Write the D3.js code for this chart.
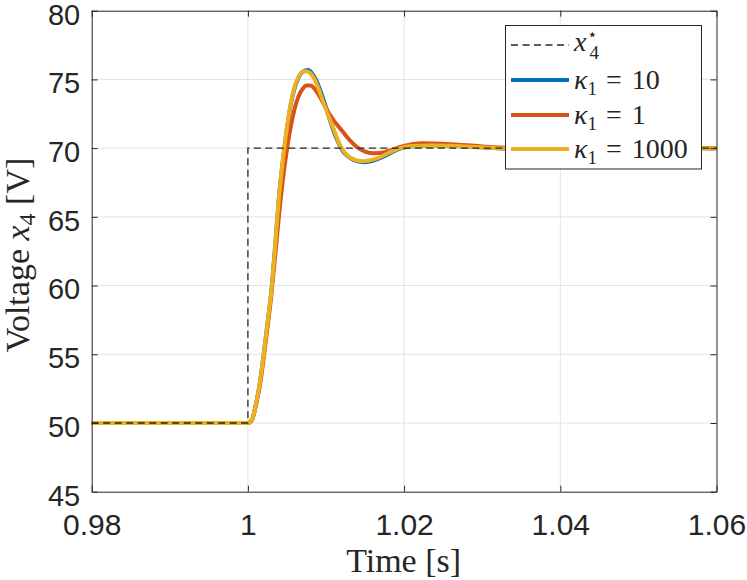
<!DOCTYPE html>
<html>
<head>
<meta charset="utf-8">
<script src="https://cdn.jsdelivr.net/npm/d3@7"></script>
<style>
  html, body { margin: 0; padding: 0; background: #fff; }
  svg { display: block; }
</style>
</head>
<body>
<svg id="chart" width="747" height="580"></svg>
<script>
// ---------------- data ----------------
const xTicks = [0.98, 1, 1.02, 1.04, 1.06];
const xTickLabels = ["0.98", "1", "1.02", "1.04", "1.06"];
const yTicks = [45, 50, 55, 60, 65, 70, 75, 80];
const yTickLabels = ["45", "50", "55", "60", "65", "70", "75", "80"];

// reference x4* (step)
const refTime  = [0.98, 1.0, 1.0, 1.06];
const refValue = [50, 50, 70, 70];

// kappa1 = 10 (blue)
const k10Time  = [0.98, 1.0, 1.0005, 1.001, 1.0015, 1.002, 1.0025, 1.003, 1.0035, 1.004, 1.0045, 1.005, 1.0055, 1.006, 1.0065, 1.007, 1.0077, 1.0082, 1.0087, 1.0092, 1.0097, 1.0102, 1.0107, 1.0112, 1.0117, 1.0122, 1.0127, 1.0132, 1.0137, 1.0142, 1.0149, 1.0156, 1.0166, 1.0176, 1.0186, 1.0196, 1.021, 1.0235, 1.026, 1.029, 1.032, 1.035, 1.04, 1.045, 1.06];
const k10Value = [50, 50, 50.2, 51.3, 52.8, 54.9, 57.2, 59.6, 63.0, 66.6, 69.2, 71.4, 73.2, 74.4, 75.15, 75.55, 75.68, 75.45, 75.0, 74.3, 73.5, 72.6, 71.7, 70.9, 70.25, 69.75, 69.45, 69.25, 69.1, 69.02, 68.98, 69.02, 69.2, 69.45, 69.75, 69.98, 70.14, 70.2, 70.17, 70.08, 70.0, 69.97, 69.98, 70.0, 70.0];

// kappa1 = 1 (orange)
const k1Time  = [0.98, 1.0, 1.0005, 1.001, 1.0015, 1.002, 1.0025, 1.003, 1.0035, 1.004, 1.0045, 1.005, 1.0055, 1.006, 1.0065, 1.007, 1.0075, 1.008, 1.0085, 1.009, 1.0095, 1.010, 1.011, 1.012, 1.013, 1.0139, 1.015, 1.0162, 1.0175, 1.0185, 1.0195, 1.021, 1.0225, 1.024, 1.027, 1.030, 1.033, 1.037, 1.042, 1.05, 1.06];
const k1Value = [50, 50, 50.2, 51.2, 52.6, 54.6, 56.9, 59.3, 62.2, 65.2, 67.8, 69.9, 71.6, 72.9, 73.8, 74.3, 74.55, 74.55, 74.35, 73.95, 73.45, 72.9, 72.0, 71.3, 70.6, 70.1, 69.75, 69.62, 69.7, 69.88, 70.08, 70.28, 70.35, 70.33, 70.25, 70.12, 70.03, 69.98, 69.98, 70.0, 70.0];

// kappa1 = 1000 (yellow)
const k1000Time  = [0.98, 1.0, 1.0005, 1.001, 1.0015, 1.002, 1.0025, 1.003, 1.0035, 1.004, 1.0045, 1.005, 1.0055, 1.006, 1.0065, 1.007, 1.0075, 1.008, 1.0085, 1.009, 1.0095, 1.010, 1.0105, 1.011, 1.0115, 1.012, 1.0125, 1.013, 1.0135, 1.014, 1.0148, 1.0155, 1.0165, 1.0175, 1.0185, 1.0195, 1.021, 1.0235, 1.026, 1.029, 1.032, 1.035, 1.04, 1.045, 1.06];
const k1000Value = [50, 50, 50.2, 51.3, 52.8, 54.9, 57.2, 59.6, 63.0, 66.6, 69.3, 71.5, 73.3, 74.5, 75.2, 75.55, 75.6, 75.45, 75.05, 74.4, 73.6, 72.8, 72.1, 71.35, 70.6, 70.0, 69.6, 69.35, 69.2, 69.1, 69.05, 69.1, 69.25, 69.5, 69.78, 70.0, 70.15, 70.2, 70.17, 70.08, 70.0, 69.97, 69.98, 70.0, 70.0];

const seriesNames = ["k10", "k1", "k1000"];
const seriesColors = ["#0072BD", "#D95319", "#EDB120"];
const kappaLabels = ["10", "1", "1000"];

// ---------------- layout ----------------
const mLeft = 91.7, mRight = 716.5, mTop = 10.7, mBottom = 491.7;
const x = d3.scaleLinear().domain([0.98, 1.06]).range([mLeft, mRight]);
const y = d3.scaleLinear().domain([45, 80]).range([mBottom, mTop]);

const svg = d3.select("#chart");
const axisColor = "#262626";
const sans = "'Liberation Sans', Arial, Helvetica, sans-serif";
const serif = "'Liberation Serif', 'Times New Roman', Times, 'DejaVu Serif', serif";

// clip
svg.append("defs").append("clipPath").attr("id", "clip")
  .append("rect").attr("x", mLeft).attr("y", mTop).attr("width", mRight - mLeft).attr("height", mBottom - mTop);

// grid
const grid = svg.append("g");
grid.selectAll(".gx").data(xTicks.slice(1, -1)).enter().append("line")
  .attr("x1", d => x(d)).attr("x2", d => x(d)).attr("y1", mTop).attr("y2", mBottom)
  .attr("stroke", "#e3e3e3").attr("stroke-width", 1);
grid.selectAll(".gy").data(yTicks.slice(1, -1)).enter().append("line")
  .attr("y1", d => y(d)).attr("y2", d => y(d)).attr("x1", mLeft).attr("x2", mRight)
  .attr("stroke", "#e3e3e3").attr("stroke-width", 1);

// lines
const plot = svg.append("g").attr("clip-path", "url(#clip)");
const lineGen = d3.line().x(d => x(d[0])).y(d => y(d[1])).curve(d3.curveMonotoneX);
const seriesData = [
  d3.zip(k10Time, k10Value),
  d3.zip(k1Time, k1Value),
  d3.zip(k1000Time, k1000Value)
];
seriesData.forEach((data, i) => {
  plot.append("path").datum(data)
    .attr("d", lineGen)
    .attr("fill", "none")
    .attr("stroke", seriesColors[i])
    .attr("stroke-width", 4)
    .attr("stroke-linejoin", "round")
    .attr("stroke-linecap", "round");
});
// reference dashed
const refLine = d3.line().x(d => x(d[0])).y(d => y(d[1]));
plot.append("path").datum(d3.zip(refTime, refValue))
  .attr("d", refLine)
  .attr("fill", "none")
  .attr("stroke", "#262626")
  .attr("stroke-width", 1.3)
  .attr("stroke-dasharray", "7,4.5");

// axes
const xAxisB = d3.axisBottom(x).tickValues(xTicks).tickFormat((d, i) => xTickLabels[i]).tickSizeInner(-6).tickSizeOuter(0).tickPadding(22);
const xAxisT = d3.axisTop(x).tickValues(xTicks).tickFormat("").tickSizeInner(-6).tickSizeOuter(0);
const yAxisL = d3.axisLeft(y).tickValues(yTicks).tickFormat((d, i) => yTickLabels[i]).tickSizeInner(-6).tickSizeOuter(0).tickPadding(11.5);
const yAxisR = d3.axisRight(y).tickValues(yTicks).tickFormat("").tickSizeInner(-6).tickSizeOuter(0);

function styleAxis(g) {
  g.select(".domain").attr("stroke", axisColor).attr("stroke-width", 1);
  g.selectAll(".tick line").attr("stroke", axisColor).attr("stroke-width", 1);
  g.selectAll(".tick text").attr("fill", axisColor).style("font-family", sans).style("font-size", "30px");
}
svg.append("g").attr("transform", `translate(0,${mBottom})`).call(xAxisB).call(styleAxis);
svg.append("g").attr("transform", `translate(0,${mTop})`).call(xAxisT).call(styleAxis);
const gyl = svg.append("g").attr("transform", `translate(${mLeft},0)`).call(yAxisL).call(styleAxis);
gyl.selectAll(".tick text").attr("dy", "0.46em").style("font-size", "29px");
svg.append("g").attr("transform", `translate(${mRight},0)`).call(yAxisR).call(styleAxis);

// axis labels
svg.append("text")
  .attr("x", (mLeft + mRight) / 2 - 0.5).attr("y", 572)
  .attr("text-anchor", "middle")
  .style("font-family", serif).style("font-size", "34px").attr("fill", axisColor)
  .text("Time [s]");

const yl = svg.append("text")
  .attr("transform", "translate(29,255) rotate(-90)")
  .attr("text-anchor", "middle")
  .style("font-family", serif).style("font-size", "34px").attr("fill", axisColor);
yl.append("tspan").text("Voltage ");
yl.append("tspan").style("font-style", "italic").text("x");
yl.append("tspan").attr("dy", 6).style("font-size", "24px").text("4");
yl.append("tspan").attr("dy", -6).text(" [V]");

// legend
const lg = svg.append("g");
lg.append("rect").attr("x", 505.5).attr("y", 25.5).attr("width", 196).attr("height", 143.5)
  .attr("fill", "#fff").attr("stroke", axisColor).attr("stroke-width", 1);
const rowY = [45, 80, 115, 149];
const lineX1 = 511, lineX2 = 569, textX = 574;
lg.append("line").attr("x1", lineX1).attr("x2", lineX2).attr("y1", rowY[0]).attr("y2", rowY[0])
  .attr("stroke", "#262626").attr("stroke-width", 1.3).attr("stroke-dasharray", "7,4.5");
const t0 = lg.append("text").attr("x", textX).attr("y", rowY[0] + 6)
  .style("font-family", serif).style("font-size", "28px").attr("fill", axisColor);
t0.append("tspan").style("font-style", "italic").text("x");
t0.append("tspan").attr("dx", 1).attr("dy", -11).style("font-size", "17px").text("\u22C6");
t0.append("tspan").attr("dx", -9).attr("dy", 19).style("font-size", "19px").text("4");

seriesNames.forEach((name, i) => {
  const yy = rowY[i + 1];
  lg.append("line").attr("x1", lineX1).attr("x2", lineX2).attr("y1", yy).attr("y2", yy)
    .attr("stroke", seriesColors[i]).attr("stroke-width", 4);
  const t = lg.append("text").attr("x", textX).attr("y", yy + 9)
    .style("font-family", serif).style("font-size", "28px").attr("fill", axisColor);
  t.append("tspan").style("font-style", "italic").text("\u03BA");
  t.append("tspan").attr("dy", 6).style("font-size", "19px").text("1");
  t.append("tspan").attr("dy", -6).attr("dx", 9).text("=");
  t.append("tspan").attr("dx", 10).text(kappaLabels[i]);
});
</script>
</body>
</html>
